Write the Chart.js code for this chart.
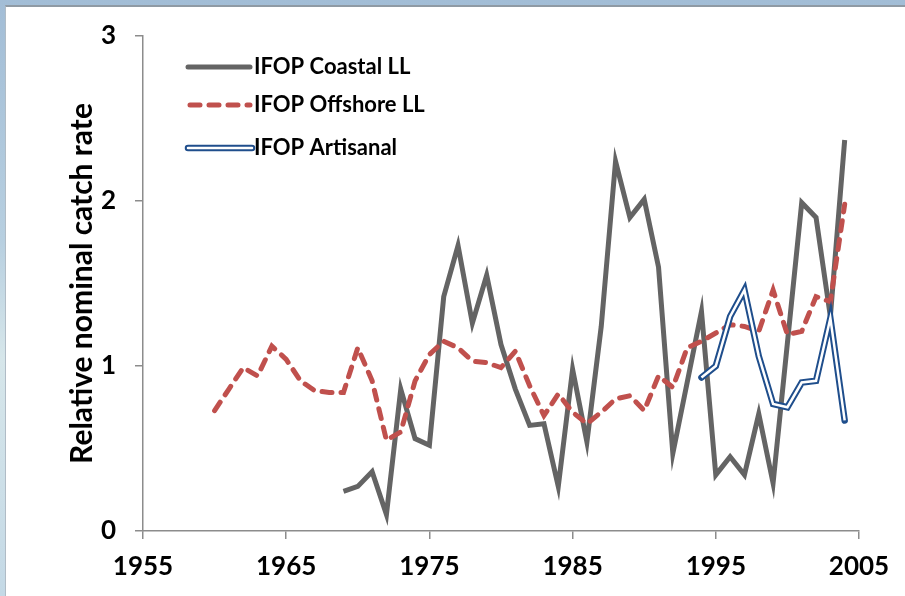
<!DOCTYPE html>
<html>
<head>
<meta charset="utf-8">
<script src="https://cdn.jsdelivr.net/npm/chart.js@4.4.1/dist/chart.umd.min.js"></script>
<style>
  html, body { margin: 0; padding: 0; }
  body {
    width: 905px; height: 596px; overflow: hidden; position: relative;
    background: linear-gradient(180deg, #a2bdd6 0%, #b7cfe0 40%, #d6e6ea 60%, #c4d9e6 100%);
  }
  #paper {
    position: absolute; left: 5px; top: 5px; right: 0; bottom: 0;
    background: #fff;
    border-top: 2px solid #8f9aa4; border-left: 1px solid #b0bcc6;
  }
  #chart { position: absolute; left: 0; top: 0; }
</style>
</head>
<body>
<div id="paper"></div>
<canvas id="chart" width="905" height="596"></canvas>
<script>
// values
const coastalYears = [1969, 1970, 1971, 1972, 1973, 1974, 1975, 1976, 1977, 1978, 1979,
  1980, 1981, 1982, 1983, 1984, 1985, 1986, 1987, 1988, 1989,
  1990, 1991, 1992, 1993, 1994, 1995, 1996, 1997, 1998, 1999,
  2000, 2001, 2002, 2003, 2004];
const coastalValues = [0.24, 0.27, 0.36, 0.10, 0.86, 0.56, 0.52, 1.42, 1.73, 1.26, 1.55,
  1.13, 0.86, 0.64, 0.65, 0.27, 0.98, 0.54, 1.24, 2.24, 1.90,
  2.01, 1.60, 0.47, 0.90, 1.33, 0.34, 0.45, 0.34, 0.71, 0.29,
  1.14, 1.99, 1.90, 1.30, 2.37];

const offshoreYears = [1960, 1961, 1962, 1963, 1964, 1965, 1966, 1967, 1968, 1969,
  1970, 1971, 1972, 1973, 1974, 1975, 1976, 1977, 1978, 1979,
  1980, 1981, 1982, 1983, 1984, 1985, 1986, 1987, 1988, 1989,
  1990, 1991, 1992, 1993, 1994, 1995, 1996, 1997, 1998, 1999,
  2000, 2001, 2002, 2003, 2004];
const offshoreValues = [0.73, 0.86, 0.99, 0.94, 1.12, 1.04, 0.91, 0.85, 0.84, 0.84,
  1.11, 0.91, 0.55, 0.60, 0.91, 1.07, 1.15, 1.11, 1.03, 1.02,
  0.99, 1.09, 0.88, 0.70, 0.83, 0.72, 0.65, 0.72, 0.80, 0.82,
  0.73, 0.94, 0.87, 1.11, 1.15, 1.20, 1.25, 1.24, 1.21, 1.46,
  1.19, 1.21, 1.42, 1.39, 1.98];

const artisanalYears = [1994, 1995, 1996, 1997, 1998, 1999, 2000, 2001, 2002, 2003, 2004];
const artisanalValues = [0.93, 1.00, 1.30, 1.46, 1.06, 0.77, 0.75, 0.90, 0.91, 1.29, 0.67];

const seriesNames = ['IFOP Coastal LL', 'IFOP Offshore LL', 'IFOP Artisanal'];
const xTicks = [1955, 1965, 1975, 1985, 1995, 2005];
const yTicks = [0, 1, 2, 3];

const GRAY = '#646464';
const RED = '#c0504d';
const BLUE = '#1f4e8c';
const FONT = 'Lato';

function points(years, values) {
  return years.map((y, i) => ({ x: y, y: values[i] }));
}

// legend drawn inside the plot, like the original
const insideLegend = {
  id: 'insideLegend',
  afterDraw(chart) {
    const ctx = chart.ctx;
    const x0 = 188, x1 = 250, tx = 254;
    const rows = [67, 105, 148];
    ctx.save();
    ctx.lineCap = 'round';
    // coastal
    ctx.strokeStyle = GRAY; ctx.lineWidth = 5;
    ctx.beginPath(); ctx.moveTo(x0, rows[0]); ctx.lineTo(x1, rows[0]); ctx.stroke();
    // offshore
    ctx.strokeStyle = RED; ctx.setLineDash([10, 9]);
    ctx.beginPath(); ctx.moveTo(x0 + 2, rows[1]); ctx.lineTo(x1, rows[1]); ctx.stroke();
    ctx.setLineDash([]);
    // artisanal
    ctx.strokeStyle = BLUE; ctx.lineWidth = 6.5;
    ctx.beginPath(); ctx.moveTo(x0, rows[2]); ctx.lineTo(x1 + 2, rows[2]); ctx.stroke();
    ctx.strokeStyle = '#fff'; ctx.lineWidth = 2.5;
    ctx.beginPath(); ctx.moveTo(x0, rows[2]); ctx.lineTo(x1 + 2, rows[2]); ctx.stroke();

    ctx.fillStyle = '#000';
    ctx.font = 'bold 22px ' + FONT;
    ctx.textBaseline = 'middle';
    ctx.textAlign = 'left';
    seriesNames.forEach((n, i) => ctx.fillText(n, tx, rows[i]));
    ctx.restore();
  }
};

new Chart(document.getElementById('chart'), {
  type: 'line',
  data: {
    datasets: [
      {
        label: seriesNames[0],
        data: points(coastalYears, coastalValues),
        borderColor: GRAY, borderWidth: 5,
        pointRadius: 0, tension: 0, order: 4
      },
      {
        label: seriesNames[1],
        data: points(offshoreYears, offshoreValues),
        borderColor: RED, borderWidth: 5,
        borderDash: [10, 9], borderCapStyle: 'round',
        pointRadius: 0, tension: 0, order: 3
      },
      {
        label: seriesNames[2],
        data: points(artisanalYears, artisanalValues),
        borderColor: BLUE, borderWidth: 6.5, borderCapStyle: 'round',
        pointRadius: 0, tension: 0, order: 2
      },
      {
        label: 'inner',
        data: points(artisanalYears, artisanalValues),
        borderColor: '#ffffff', borderWidth: 2.5,
        pointRadius: 0, tension: 0, order: 1
      }
    ]
  },
  options: {
    responsive: false,
    animation: false,
    events: [],
    layout: { padding: { left: 0, top: 36, right: 46, bottom: 0 } },
    plugins: {
      legend: { display: false },
      tooltip: { enabled: false }
    },
    scales: {
      x: {
        type: 'linear',
        min: 1955, max: 2005,
        afterBuildTicks: (axis) => { axis.ticks = xTicks.map(v => ({ value: v })); },
        afterFit: (axis) => { axis.height = 65; },
        ticks: {
          padding: 12,
          color: '#000',
          font: { family: FONT, size: 26, weight: 'bold' },
          callback: (v) => String(v)
        },
        grid: { drawOnChartArea: false, drawTicks: true, tickLength: 8, color: '#8c8c8c', lineWidth: 1.5 },
        border: { display: true, color: '#8c8c8c', width: 1.5 }
      },
      y: {
        min: 0, max: 3,
        afterBuildTicks: (axis) => { axis.ticks = yTicks.map(v => ({ value: v })); },
        afterFit: (axis) => { axis.width = 143; },
        ticks: {
          padding: 19,
          color: '#000',
          font: { family: FONT, size: 26, weight: 'bold' }
        },
        title: {
          display: true,
          text: 'Relative nominal catch rate',
          color: '#000',
          font: { family: FONT, size: 30, weight: 'bold' },
          padding: { top: 64, bottom: 0 }
        },
        grid: { drawOnChartArea: false, drawTicks: true, tickLength: 8, color: '#8c8c8c', lineWidth: 1.5 },
        border: { display: true, color: '#8c8c8c', width: 1.5 }
      }
    }
  },
  plugins: [insideLegend]
});
</script>
</body>
</html>
